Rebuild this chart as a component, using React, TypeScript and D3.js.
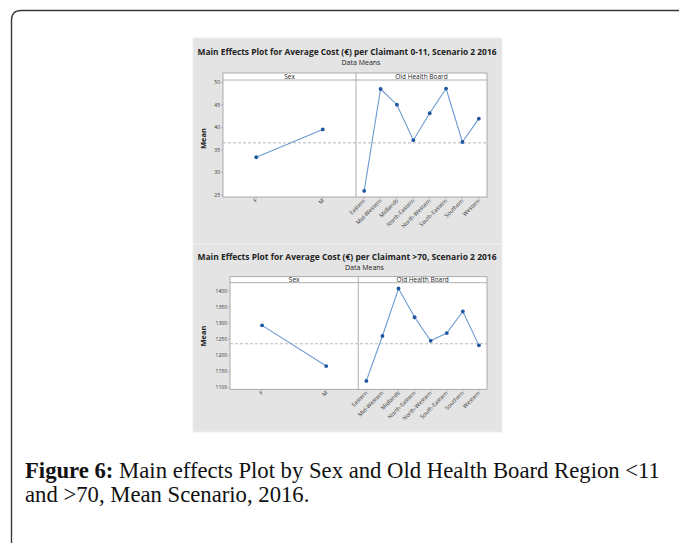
import React from 'react';
import * as d3 from 'd3';

const sexLevels = ['F', 'M'];
const boardLevels = ['Eastern', 'Mid-Western', 'Midlands', 'North-Eastern', 'North-Western', 'South-Eastern', 'Southern', 'Western'];

// 0-11 age group
const childSexMeans = [33.4, 39.6];
const childBoardMeans = [25.9, 48.6, 45.1, 37.2, 43.2, 48.7, 36.8, 42.0];
const childGrandMean = 36.6;
const childTicks = [25, 30, 35, 40, 45, 50];

// >70 age group
const elderSexMeans = [1293, 1167];
const elderBoardMeans = [1121, 1260, 1407, 1318, 1245, 1269, 1336, 1231];
const elderGrandMean = 1236;
const elderTicks = [1100, 1150, 1200, 1250, 1300, 1350, 1400];

const LINE = '#6b9bd0';
const DOT = '#1f56a0';
const BORDER = '#9a9a9a';
const TXT = '#333';

interface PanelProps {
  title: string;
  bgY: number;
  bgH: number;
  titleY: number;
  left: number;
  divider: number;
  right: number;
  top: number;
  strip: number;
  bottom: number;
  domain: [number, number];
  ticks: number[];
  sexMeans: number[];
  boardMeans: number[];
  grand: number;
}

const MainEffects: React.FC<PanelProps> = (p) => {
  const y = d3.scaleLinear().domain(p.domain).range([p.bottom, p.strip]);
  const xSex = d3.scalePoint<string>().domain(sexLevels).range([p.left, p.divider]).padding(0.5);
  const xBoard = d3.scalePoint<string>().domain(boardLevels).range([p.divider, p.right]).padding(0.5);
  const line = d3.line<[number, number]>().x(d => d[0]).y(d => d[1]);
  const sexPts: [number, number][] = sexLevels.map((s, i) => [xSex(s)!, y(p.sexMeans[i])]);
  const boardPts: [number, number][] = boardLevels.map((s, i) => [xBoard(s)!, y(p.boardMeans[i])]);
  const cx = (p.left + p.right) / 2 - 1;

  return (
    <g>
      <rect x={193} y={p.bgY} width={309} height={p.bgH} fill="#e4e4e4" stroke="#efefef" strokeWidth={1} />
      <text x={347} y={p.titleY} textAnchor="middle" fontFamily="Open Sans, sans-serif" fontWeight="bold"
        fontSize={8.6} fill="#222" textLength={299} lengthAdjust="spacingAndGlyphs">{p.title}</text>
      <text x={cx + 7} y={p.titleY + 10.5} textAnchor="middle" fontFamily="Open Sans, sans-serif" fontSize={7}
        fill="#222">Data Means</text>

      {/* panel boxes */}
      <rect x={p.left} y={p.top} width={p.right - p.left} height={p.bottom - p.top} fill="#fff" stroke={BORDER} strokeWidth={0.8} />
      <line x1={p.left} x2={p.right} y1={p.strip} y2={p.strip} stroke={BORDER} strokeWidth={0.8} />
      <line x1={p.divider} x2={p.divider} y1={p.top} y2={p.bottom} stroke={BORDER} strokeWidth={0.8} />
      <text x={(p.left + p.divider) / 2} y={p.strip - 1} textAnchor="middle" fontFamily="Open Sans, sans-serif" fontSize={6.5} fill="#222">Sex</text>
      <text x={(p.divider + p.right) / 2} y={p.strip - 1} textAnchor="middle" fontFamily="Open Sans, sans-serif" fontSize={6.5} fill="#222">Old Health Board</text>

      {/* y axis */}
      {p.ticks.map(t => (
        <g key={t}>
          <line x1={p.left - 2} x2={p.left} y1={y(t)} y2={y(t)} stroke={BORDER} strokeWidth={0.6} />
          <text x={p.left - 3} y={y(t) + 1.8} textAnchor="end" fontFamily="Open Sans, sans-serif" fontSize={5} fill={TXT}>{t}</text>
        </g>
      ))}
      <text transform={`translate(206,${(p.strip + p.bottom) / 2}) rotate(-90)`} textAnchor="middle"
        fontFamily="Open Sans, sans-serif" fontWeight="bold" fontSize={7.5} fill="#222">Mean</text>

      {/* grand mean reference */}
      <line x1={p.left} x2={p.right} y1={y(p.grand)} y2={y(p.grand)} stroke="#b0b0b0" strokeWidth={0.9} strokeDasharray="3,2" />

      {/* x axes */}
      {sexLevels.map(s => (
        <g key={s}>
          <line x1={xSex(s)} x2={xSex(s)} y1={p.bottom} y2={p.bottom + 2} stroke={BORDER} strokeWidth={0.6} />
          <text transform={`translate(${xSex(s)! + 1.5},${p.bottom + 4}) rotate(-45)`} textAnchor="end"
            fontFamily="Open Sans, sans-serif" fontSize={5.6} fill={TXT}>{s}</text>
        </g>
      ))}
      {boardLevels.map(s => (
        <g key={s}>
          <line x1={xBoard(s)} x2={xBoard(s)} y1={p.bottom} y2={p.bottom + 2} stroke={BORDER} strokeWidth={0.6} />
          <text transform={`translate(${xBoard(s)! + 1.5},${p.bottom + 4}) rotate(-45)`} textAnchor="end"
            fontFamily="Open Sans, sans-serif" fontSize={5.6} fill={TXT}>{s}</text>
        </g>
      ))}

      {/* effect lines */}
      <path d={line(sexPts)!} fill="none" stroke={LINE} strokeWidth={1.1} />
      <path d={line(boardPts)!} fill="none" stroke={LINE} strokeWidth={1.1} />
      {[...sexPts, ...boardPts].map((d, i) => (
        <circle key={i} cx={d[0]} cy={d[1]} r={1.9} fill={DOT} />
      ))}
    </g>
  );
};

export default function App() {
  return (
    <svg width={679} height={543} viewBox="0 0 679 543"
      style={{ position: 'absolute', left: 0, top: 0, background: '#fff' }}>
      <path d="M11.5,560 L11.5,20 Q11.5,10.5 21,10.5 L700,10.5" fill="none" stroke="#3a3a3a" strokeWidth={1.4} />

      <MainEffects
        title="Main Effects Plot for Average Cost (€) per Claimant 0-11, Scenario 2 2016"
        bgY={38} bgH={206} titleY={54.5}
        left={223} divider={356} right={487} top={73} strip={80} bottom={197}
        domain={[24.55, 50.6]} ticks={childTicks}
        sexMeans={childSexMeans} boardMeans={childBoardMeans} grand={childGrandMean}
      />
      <MainEffects
        title="Main Effects Plot for Average Cost (€) per Claimant >70, Scenario 2 2016"
        bgY={244} bgH={188} titleY={259.5}
        left={230} divider={358.3} right={487} top={276.7} strip={282.7} bottom={389.3}
        domain={[1095, 1425]} ticks={elderTicks}
        sexMeans={elderSexMeans} boardMeans={elderBoardMeans} grand={elderGrandMean}
      />

      <text x={25} y={478} fontFamily="Liberation Serif, Times New Roman, serif" fontSize={22.7} fill="#111">
        <tspan fontWeight="bold">Figure 6:</tspan> Main effects Plot by Sex and Old Health Board Region &lt;11
      </text>
      <text x={25} y={502} fontFamily="Liberation Serif, Times New Roman, serif" fontSize={22.7} fill="#111">
        and &gt;70, Mean Scenario, 2016.
      </text>
    </svg>
  );
}
